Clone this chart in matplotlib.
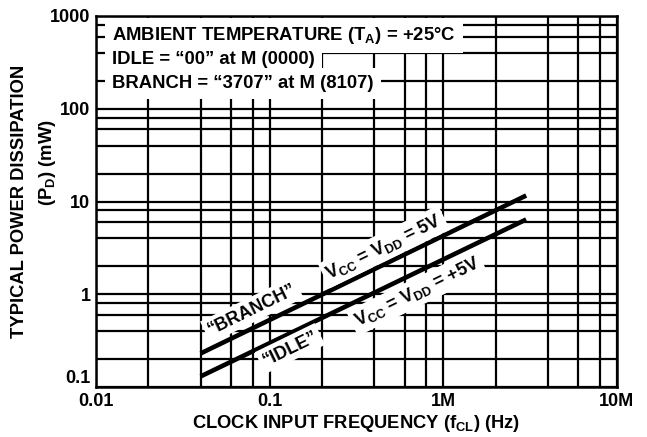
import matplotlib
matplotlib.use("Agg")
import matplotlib.pyplot as plt
from matplotlib.ticker import FixedLocator, LogLocator, NullFormatter

plt.rcParams['font.family'] = ['Liberation Sans', 'DejaVu Sans']
plt.rcParams['font.weight'] = 'bold'
plt.rcParams['mathtext.fontset'] = 'custom'
plt.rcParams['mathtext.rm'] = 'Liberation Sans:bold'
plt.rcParams['mathtext.bf'] = 'Liberation Sans:bold'
plt.rcParams['mathtext.it'] = 'Liberation Sans:bold'

# Data (Hz, mW)
freq = [4e4, 3e6]
branch_pd = [0.23, 11.6]
idle_pd = [0.13, 6.4]

x_ticks = [1e4, 1e5, 1e6, 1e7]
x_tick_labels = ["0.01", "0.1", "1M", "10M"]
y_ticks = [0.1, 1, 10, 100, 1000]
y_tick_labels = ["0.1", "1", "10", "100", "1000"]

notes = ["AMBIENT TEMPERATURE (T$_\\mathrm{A}$) = +25°C",
         "IDLE = \u201c00\u201d at M (0000)",
         "BRANCH = \u201c3707\u201d at M (8107)"]

fig = plt.figure(figsize=(6.47, 4.37), dpi=100)
ax = fig.add_axes([0.1484, 0.1144, 0.8052, 0.849])

ax.set_xscale('log')
ax.set_yscale('log')
ax.set_xlim(1e4, 1e7)
ax.set_ylim(0.1, 1000)

# graph-paper grid: decades plus 2, 4, 6, 8
for axis in (ax.xaxis, ax.yaxis):
    axis.set_minor_locator(LogLocator(base=10, subs=[2, 4, 6, 8]))
    axis.set_minor_formatter(NullFormatter())
ax.xaxis.set_major_locator(FixedLocator(x_ticks))
ax.yaxis.set_major_locator(FixedLocator(y_ticks))
ax.set_xticklabels(x_tick_labels)
ax.set_yticklabels(y_tick_labels)
ax.grid(True, which='both', color='black', linewidth=1.6, zorder=1)
ax.tick_params(which='both', length=0, labelsize=13, pad=4)
ax.set_axisbelow(True)
for s in ax.spines.values():
    s.set_linewidth(1.8)
ax.get_yticklabels()[0].set_verticalalignment('bottom')

ax.plot(freq, branch_pd, color='black', lw=3.3, solid_capstyle='butt', zorder=3)
ax.plot(freq, idle_pd, color='black', lw=3.3, solid_capstyle='butt', zorder=3)

box = dict(facecolor='white', edgecolor='none', boxstyle='square,pad=0.2')
lbl = dict(fontsize=13, rotation=26, rotation_mode='anchor', ha='center', va='center',
           bbox=box, zorder=4)
ax.text(7.9e4, 0.68, "\u201cBRANCH\u201d", **lbl)
ax.text(4.55e5, 3.25, "V$_\\mathrm{CC}$ = V$_\\mathrm{DD}$ = 5V", **lbl)
ax.text(1.31e5, 0.26, "\u201cIDLE\u201d", **lbl)
ax.text(7.05e5, 1.05, "V$_\\mathrm{CC}$ = V$_\\mathrm{DD}$ = +5V", **lbl)

note_y = [0.935, 0.871, 0.806]
for txt, yy in zip(notes, note_y):
    ax.text(0.031, yy, txt, transform=ax.transAxes, fontsize=13.3, va='baseline', ha='left',
            zorder=4, bbox=dict(facecolor='white', edgecolor='none', boxstyle='square,pad=0.4'))

fig.text(20 / 647, 1 - 201 / 437, "TYPICAL POWER DISSIPATION", rotation=90,
         ha='center', va='center', fontsize=13.2)
fig.text(47 / 647, 1 - 163 / 437, "(P$_\\mathrm{D}$) (mW)", rotation=90,
         ha='center', va='center', fontsize=13.2)
fig.text(356 / 647, 1 - 424 / 437, "CLOCK INPUT FREQUENCY (f$_\\mathrm{CL}$) (Hz)",
         ha='center', va='center', fontsize=13.2)

fig.savefig("out.png", dpi=100)
